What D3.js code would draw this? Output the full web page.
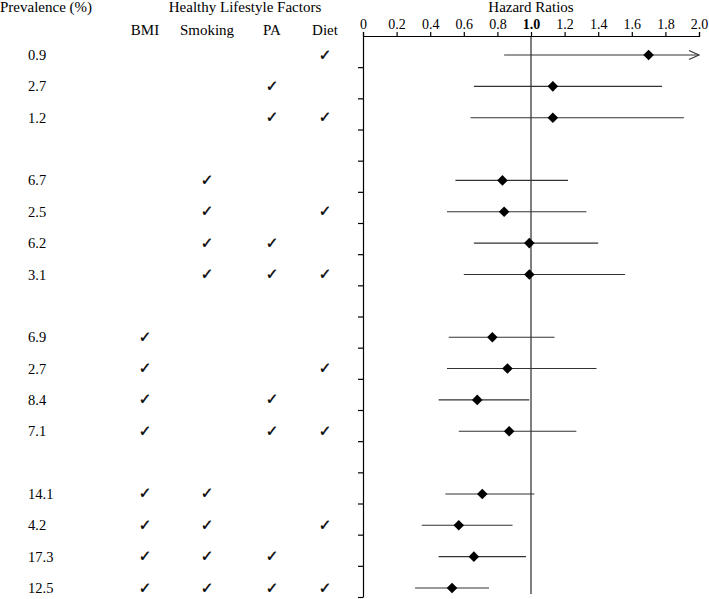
<!DOCTYPE html>
<html>
<head>
<meta charset="utf-8">
<script src="https://cdn.jsdelivr.net/npm/d3@7"></script>
<style>
  body { margin: 0; background: #fff; }
  svg { display: block; }
</style>
</head>
<body>
<div id="chart"></div>
<script>
// one entry per row, "" = spacer row between groups
const prevalence = ["0.9", "2.7", "1.2", "", "6.7", "2.5", "6.2", "3.1", "", "6.9", "2.7", "8.4", "7.1", "", "14.1", "4.2", "17.3", "12.5"]
const hr    = [1.70, 1.13, 1.13, null, 0.83, 0.84, 0.99, 0.99, null, 0.77, 0.86, 0.68, 0.87, null, 0.71, 0.57, 0.66, 0.53]
const hrLow = [0.84, 0.66, 0.64, null, 0.55, 0.50, 0.66, 0.60, null, 0.51, 0.50, 0.45, 0.57, null, 0.49, 0.35, 0.45, 0.31]
const hrHigh = [2.0, 1.78, 1.91, null, 1.22, 1.33, 1.40, 1.56, null, 1.14, 1.39, 0.99, 1.27, null, 1.02, 0.89, 0.97, 0.75]
const openEnded = [true, false, false, false, false, false, false, false, false, false, false, false, false, false, false, false, false, false]

const factors = ["BMI", "Smoking", "PA", "Diet"]
const bmi     = [0, 0, 0, 0, 0, 0, 0, 0, 0, 1, 1, 1, 1, 0, 1, 1, 1, 1]
const smoking = [0, 0, 0, 0, 1, 1, 1, 1, 0, 0, 0, 0, 0, 0, 1, 1, 1, 1]
const pa      = [0, 1, 1, 0, 0, 0, 1, 1, 0, 0, 0, 1, 1, 0, 0, 0, 1, 1]
const diet    = [1, 0, 1, 0, 0, 1, 0, 1, 0, 0, 1, 0, 1, 0, 0, 1, 0, 1]

const xTicks = [0, 0.2, 0.4, 0.6, 0.8, 1.0, 1.2, 1.4, 1.6, 1.8, 2.0]

width = 709
height = 599
const serif = "'Liberation Serif', 'Times New Roman', serif"

const svg = d3.select("#chart").append("svg")
   .attr("width", width)
   .attr("height", height)
   .attr("viewBox", [0, 0, width, height])

const rows = d3.range(prevalence.length)

x = d3.scaleLinear()
   .domain([0, 2])
   .range([363, 699])

// row centres for marks and labels
y = d3.scalePoint()
   .domain(rows)
   .range([55, 588])

// row boundaries for the left axis ticks
yEdge = d3.scaleLinear()
   .domain([0, rows.length])
   .range([36, 597])

colX = d3.scaleOrdinal()
   .domain(factors)
   .range([145, 207, 272, 325])

// headers
svg.append("text")
   .attr("x", 0).attr("y", 12)
   .attr("font-family", serif).attr("font-size", 15)
   .text("Prevalence (%)")

svg.append("text")
   .attr("x", 245).attr("y", 12)
   .attr("text-anchor", "middle")
   .attr("font-family", serif).attr("font-size", 15)
   .text("Healthy Lifestyle Factors")

svg.append("text")
   .attr("x", x(1)).attr("y", 12)
   .attr("text-anchor", "middle")
   .attr("font-family", serif).attr("font-size", 15)
   .text("Hazard Ratios")

svg.append("g")
   .attr("font-family", serif).attr("font-size", 15)
   .attr("text-anchor", "middle")
   .selectAll("text")
   .data(factors)
   .join("text")
   .attr("x", d => colX(d))
   .attr("y", 35)
   .text(d => d)

// prevalence column
svg.append("g")
   .attr("font-family", serif).attr("font-size", 14.5)
   .selectAll("text")
   .data(rows.filter(i => prevalence[i] !== ""))
   .join("text")
   .attr("x", 28)
   .attr("y", i => y(i))
   .attr("dy", "0.35em")
   .text(i => prevalence[i])

// check marks
const checks = []
const flags = { BMI: bmi, Smoking: smoking, PA: pa, Diet: diet }
factors.forEach(f => rows.forEach(i => { if (flags[f][i]) checks.push({ f, i }) }))

svg.append("g")
   .attr("font-family", "'DejaVu Sans', sans-serif").attr("font-size", 15)
   .attr("text-anchor", "middle")
   .attr("stroke", "#000").attr("stroke-width", 0.4)
   .selectAll("text")
   .data(checks)
   .join("text")
   .attr("x", d => colX(d.f))
   .attr("y", d => y(d.i))
   .attr("dy", "0.3em")
   .text("\u2713")

// axes
xAxis = g => g
   .attr("transform", `translate(0,${yEdge(0)})`)
   .call(d3.axisTop(x).tickValues(xTicks).tickSize(4).tickSizeOuter(4)
      .tickFormat(d => d === 0 ? "0" : d.toFixed(1)))
   .call(g => g.selectAll("text")
      .attr("font-family", serif).attr("font-size", 14).attr("fill", "#000")
      .attr("font-weight", d => d === 1 ? "bold" : null))
   .call(g => g.selectAll("line, path").attr("stroke", "#000").attr("stroke-width", 1.2))

yAxis = g => g
   .attr("transform", `translate(${x(0)},0)`)
   .call(d3.axisLeft(yEdge).tickValues(d3.range(1, rows.length + 1)).tickSize(5).tickSizeOuter(0).tickFormat(""))
   .call(g => g.selectAll("line, path").attr("stroke", "#000").attr("stroke-width", 1.2))

svg.append("g").call(xAxis)
svg.append("g").call(yAxis)

// reference line at HR = 1
svg.append("line")
   .attr("x1", x(1)).attr("x2", x(1))
   .attr("y1", yEdge(0)).attr("y2", 594)
   .attr("stroke", "#000").attr("stroke-width", 1)

const est = rows.filter(i => hr[i] !== null)

// confidence intervals
svg.append("g")
   .attr("stroke", "#333").attr("stroke-width", 1.1)
   .selectAll("line")
   .data(est)
   .join("line")
   .attr("x1", i => x(hrLow[i]))
   .attr("x2", i => x(hrHigh[i]))
   .attr("y1", i => y(i))
   .attr("y2", i => y(i))

// open arrow where the interval runs past the axis
svg.append("g")
   .attr("fill", "none").attr("stroke", "#333").attr("stroke-width", 1.1)
   .selectAll("path")
   .data(est.filter(i => openEnded[i]))
   .join("path")
   .attr("d", i => `M${x(hrHigh[i]) - 10},${y(i) - 4.5}L${x(hrHigh[i])},${y(i)}L${x(hrHigh[i]) - 10},${y(i) + 4.5}`)

// point estimates
svg.append("g")
   .selectAll("path")
   .data(est)
   .join("path")
   .attr("transform", i => `translate(${x(hr[i])},${y(i)}) rotate(45)`)
   .attr("d", d3.symbol(d3.symbolSquare, 56))
   .attr("fill", "#000")
</script>
</body>
</html>
